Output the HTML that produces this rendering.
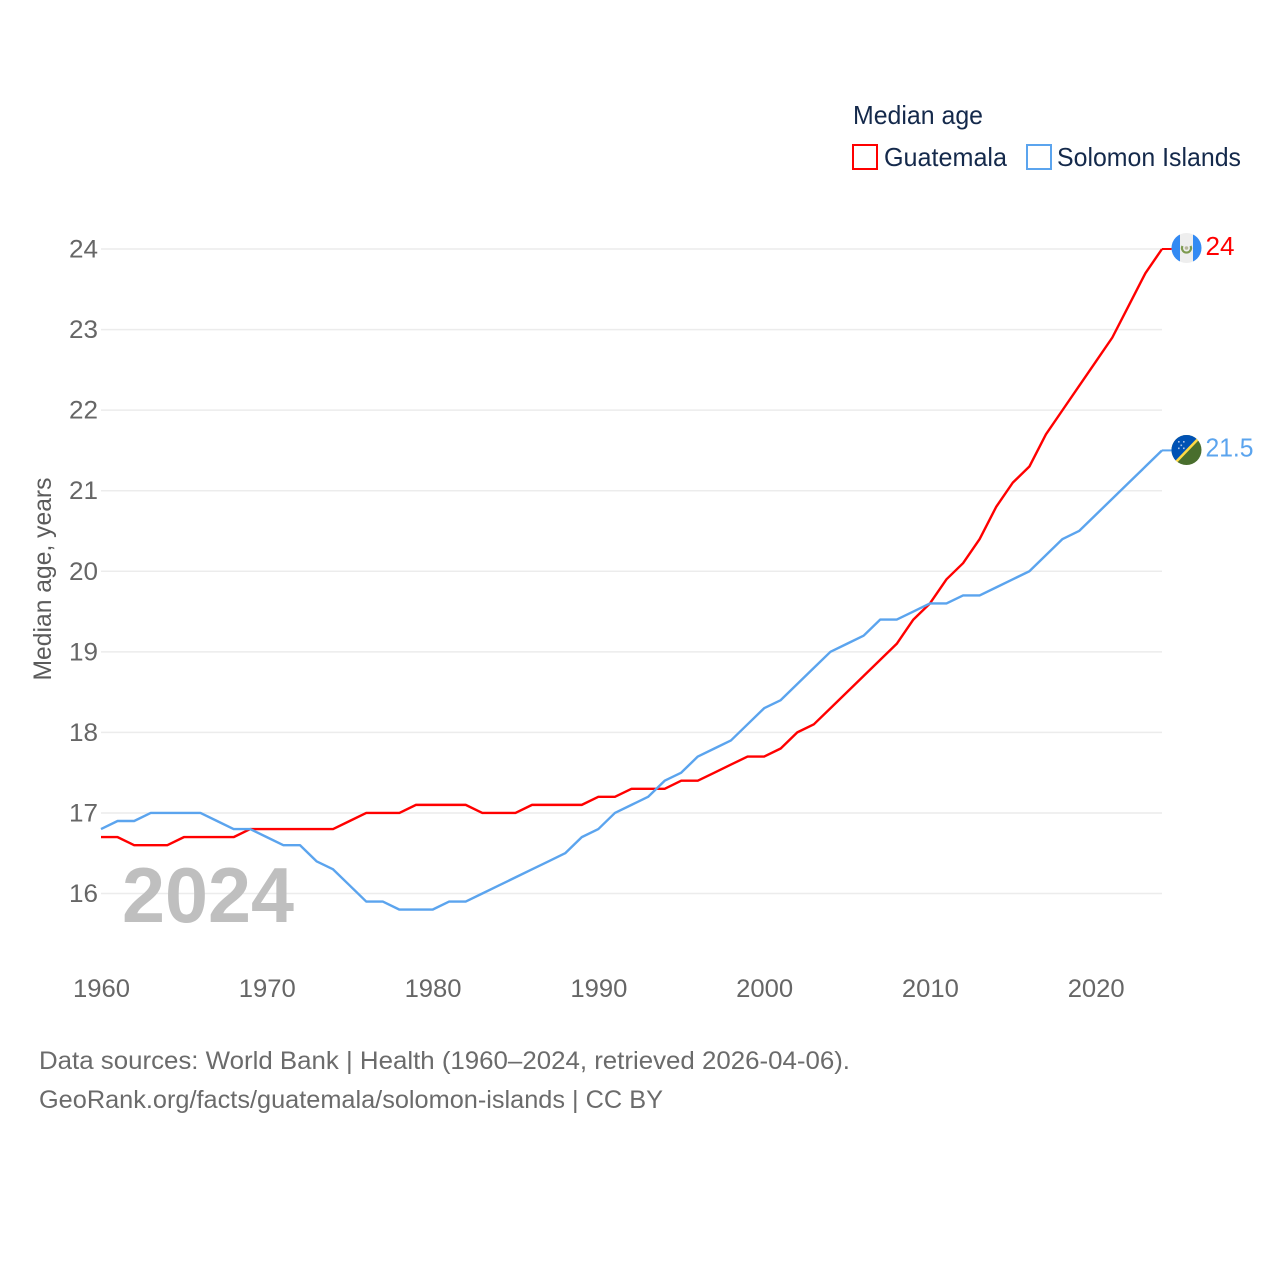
<!DOCTYPE html>
<html lang="en">
<head>
<meta charset="utf-8">
<title>Median age: Guatemala and Solomon Islands</title>
<style>
html,body{margin:0;padding:0;background:#fff}
svg{display:block}
text{font-family:"Liberation Sans",Arial,sans-serif}
</style>
</head>
<body>
<svg id="chart" xmlns="http://www.w3.org/2000/svg" width="1280" height="1280" viewBox="0 0 1280 1280">
  <rect width="1280" height="1280" fill="#fff"/>
  <g id="grid"></g>
  <g id="yticks"></g>
  <g id="xticks"></g>
  <text transform="translate(51,579) rotate(-90)" text-anchor="middle" font-size="25" fill="#5b5b5b" textLength="203" lengthAdjust="spacingAndGlyphs">Median age, years</text>
  <text x="122" y="922" font-size="78" font-weight="700" fill="#bfbfbf" textLength="172" lengthAdjust="spacingAndGlyphs">2024</text>
  <g id="series"></g>
  <g id="ends"></g>
  <g>
    <text x="853" y="124" font-size="26" fill="#14294b" textLength="130" lengthAdjust="spacingAndGlyphs">Median age</text>
    <g>
      <rect x="853" y="145" width="24" height="24" fill="#fff" stroke="#ff0000" stroke-width="2"/>
      <text x="884" y="166" font-size="26" fill="#14294b" textLength="123" lengthAdjust="spacingAndGlyphs">Guatemala</text>
    </g>
    <g>
      <rect x="1027" y="145" width="24" height="24" fill="#fff" stroke="#5ba4ee" stroke-width="2"/>
      <text x="1057" y="166" font-size="26" fill="#14294b" textLength="184" lengthAdjust="spacingAndGlyphs">Solomon Islands</text>
    </g>
  </g>
  <g>
    <text x="39" y="1069" font-size="25" fill="#6b6b6b" textLength="811" lengthAdjust="spacingAndGlyphs">Data sources: World Bank | Health (1960–2024, retrieved 2026-04-06).</text>
    <text x="39" y="1108" font-size="25" fill="#6b6b6b" textLength="624" lengthAdjust="spacingAndGlyphs">GeoRank.org/facts/guatemala/solomon-islands | CC BY</text>
  </g>
  <defs>
    <clipPath id="clip-gt"><circle cx="1186.5" cy="248" r="15"/></clipPath>
    <clipPath id="clip-sb"><circle cx="1186.5" cy="450" r="15"/></clipPath>
  </defs>
  <g clip-path="url(#clip-gt)">
    <rect x="1171" y="233" width="31" height="31" fill="#eeeeee"/>
    <rect x="1171" y="233" width="9" height="31" fill="#338af3"/>
    <rect x="1193" y="233" width="9" height="31" fill="#338af3"/>
    <path d="M1182.5 246 A4.5 4.5 0 1 0 1190.5 246" fill="none" stroke="#7d9a4f" stroke-width="2.2"/>
    <circle cx="1186.5" cy="248" r="1.8" fill="#b5b59a"/>
  </g>
  <g clip-path="url(#clip-sb)">
    <rect x="1171" y="435" width="31" height="31" fill="#496e2d"/>
    <polygon points="1171,435 1202,435 1171,466" fill="#0052b4"/>
    <line x1="1174" y1="464" x2="1200" y2="437" stroke="#ffda44" stroke-width="2.6"/>
    <g fill="#a9c2e6">
      <rect x="1178" y="441" width="1.6" height="1.6"/><rect x="1183" y="441" width="1.6" height="1.6"/>
      <rect x="1180.5" y="444.5" width="1.6" height="1.6"/>
      <rect x="1178" y="447.5" width="1.6" height="1.6"/><rect x="1183" y="447.5" width="1.6" height="1.6"/>
    </g>
  </g>
</svg>
<script>
var years = [1960,1961,1962,1963,1964,1965,1966,1967,1968,1969,1970,1971,1972,1973,1974,1975,1976,1977,1978,1979,1980,1981,1982,1983,1984,1985,1986,1987,1988,1989,1990,1991,1992,1993,1994,1995,1996,1997,1998,1999,2000,2001,2002,2003,2004,2005,2006,2007,2008,2009,2010,2011,2012,2013,2014,2015,2016,2017,2018,2019,2020,2021,2022,2023,2024];
var guatemala = [16.7,16.7,16.6,16.6,16.6,16.7,16.7,16.7,16.7,16.8,16.8,16.8,16.8,16.8,16.8,16.9,17,17,17,17.1,17.1,17.1,17.1,17,17,17,17.1,17.1,17.1,17.1,17.2,17.2,17.3,17.3,17.3,17.4,17.4,17.5,17.6,17.7,17.7,17.8,18,18.1,18.3,18.5,18.7,18.9,19.1,19.4,19.6,19.9,20.1,20.4,20.8,21.1,21.3,21.7,22,22.3,22.6,22.9,23.3,23.7,24];
var solomonIslands = [16.8,16.9,16.9,17,17,17,17,16.9,16.8,16.8,16.7,16.6,16.6,16.4,16.3,16.1,15.9,15.9,15.8,15.8,15.8,15.9,15.9,16,16.1,16.2,16.3,16.4,16.5,16.7,16.8,17,17.1,17.2,17.4,17.5,17.7,17.8,17.9,18.1,18.3,18.4,18.6,18.8,19,19.1,19.2,19.4,19.4,19.5,19.6,19.6,19.7,19.7,19.8,19.9,20,20.2,20.4,20.5,20.7,20.9,21.1,21.3,21.5];
var yTickValues = [16,17,18,19,20,21,22,23,24];
var xTickValues = [1960,1970,1980,1990,2000,2010,2020];
var guatemalaEndLabel = "24";
var solomonEndLabel = "21.5";

var NS = "http://www.w3.org/2000/svg";
function xScale(year) { return 101 + (year - 1960) * (1162 - 101) / (2024 - 1960); }
function yScale(age) { return 893.5 - (age - 16) * (893.5 - 249) / (24 - 16); }
function make(tag, parent, attrs, txt) {
  var el = document.createElementNS(NS, tag);
  for (var k in attrs) { el.setAttribute(k, attrs[k]); }
  if (txt !== undefined) { el.textContent = txt; }
  parent.appendChild(el);
  return el;
}
var gridG = document.getElementById("grid");
var yG = document.getElementById("yticks");
var xG = document.getElementById("xticks");
var seriesG = document.getElementById("series");
var endsG = document.getElementById("ends");

yTickValues.forEach(function (v) {
  var line = make("line", gridG, {x1: 101, x2: 1162, y1: yScale(v), y2: yScale(v), stroke: "#ececec", "stroke-width": 1.5});
  
  
  var label = make("text", yG, {x: 98, y: yScale(v) + 8.5, "text-anchor": "end", "font-size": 25, fill: "#666666", textLength: 29, lengthAdjust: "spacingAndGlyphs"}, String(v));
  
  
});
xTickValues.forEach(function (v) {
  var label = make("text", xG, {x: xScale(v) + 0.5, y: 997, "text-anchor": "middle", "font-size": 25, fill: "#666666", textLength: 57, lengthAdjust: "spacingAndGlyphs"}, String(v));
  
  
});
function pathFor(values) {
  return values.map(function (v, i) {
    return (i ? "L" : "M") + xScale(years[i]).toFixed(2) + " " + yScale(v).toFixed(2);
  }).join(" ");
}
function endConnector(values, color) {
  var last = values[values.length - 1];
  var y = yScale(last);
  return make("line", endsG, {x1: xScale(years[years.length - 1]), x2: 1172, y1: y, y2: y, stroke: color, "stroke-width": 2});
}
var guatemalaLine = make("path", seriesG, {d: pathFor(guatemala), fill: "none", stroke: "#ff0000", "stroke-width": 2.4, "stroke-linejoin": "round"});


var solomonLine = make("path", seriesG, {d: pathFor(solomonIslands), fill: "none", stroke: "#5ba4ee", "stroke-width": 2.4, "stroke-linejoin": "round"});


var guatemalaConnector = endConnector(guatemala, "#ff0000");


var solomonConnector = endConnector(solomonIslands, "#5ba4ee");


var guatemalaValue = make("text", endsG, {x: 1205.5, y: yScale(guatemala[guatemala.length - 1]) + 6, "font-size": 26, fill: "#ff0000", textLength: 29, lengthAdjust: "spacingAndGlyphs"}, guatemalaEndLabel);


var solomonValue = make("text", endsG, {x: 1205.5, y: yScale(solomonIslands[solomonIslands.length - 1]) + 6, "font-size": 26, fill: "#5ba4ee", textLength: 48, lengthAdjust: "spacingAndGlyphs"}, solomonEndLabel);


</script>
</body>
</html>
